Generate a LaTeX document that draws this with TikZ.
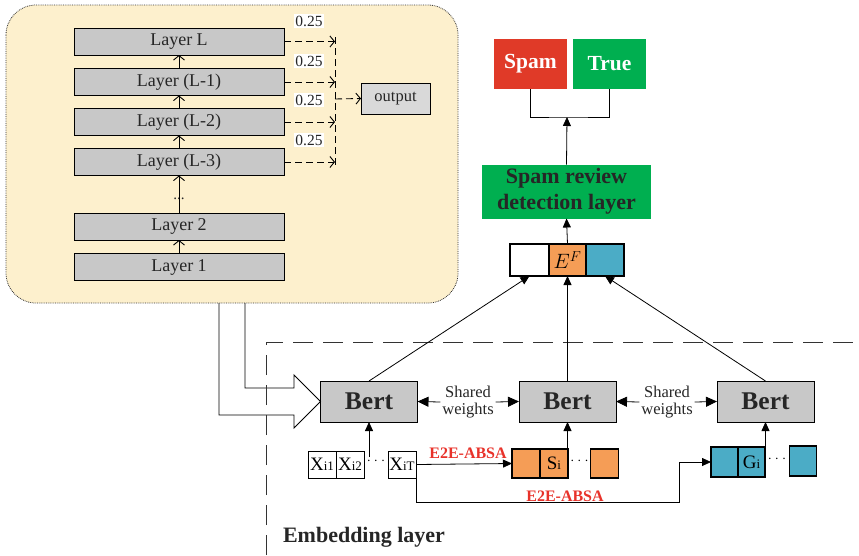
\documentclass[tikz,border=0pt]{standalone}
\usepackage{fontspec}
\setmainfont{Liberation Serif}
\usetikzlibrary{arrows.meta}
\definecolor{panel}{HTML}{FDF0CD}
\definecolor{lgray}{HTML}{C8C8C8}
\definecolor{ogray}{HTML}{D9D9D9}
\definecolor{orng}{HTML}{F59D56}
\definecolor{tealc}{HTML}{4BACC6}
\definecolor{spamred}{HTML}{E03A28}
\definecolor{grn}{HTML}{00AF50}
\definecolor{redtxt}{HTML}{E8322A}
\definecolor{ink}{HTML}{262626}
\newcommand{\fsz}[1]{\fontsize{#1}{#1}\selectfont}
\newcommand{\tok}[2]{{\fsz{19}#1}{\fsz{13}#2}}
\tikzset{
  x=1pt, y=-1pt,
  every node/.style={inner sep=0pt, outer sep=0pt},
  layerbox/.style={draw, line width=0.9pt, fill=lgray, minimum width=210pt, minimum height=27pt, font=\fsz{18}, text=ink},
  barb/.style={-{Straight Barb[length=4.5pt,width=11pt]}, line width=0.9pt},
  dbarb/.style={barb, dash pattern=on 7pt off 4pt},
  wlabel/.style={fill=white, inner sep=1.5pt, font=\fsz{15.5}, text=ink},
  bert/.style={draw, line width=0.9pt, fill=lgray, minimum width=97pt, minimum height=41pt, font=\bfseries\fsz{25.5}, text=ink},
  tri/.style={-{Triangle[length=9pt,width=8pt]}, line width=0.8pt},
  btri/.style={-{Triangle[length=11pt,width=10pt]}, line width=0.8pt},
  tokbox/.style={draw, line width=1pt, minimum width=28pt, minimum height=27pt},
  obox/.style={draw, line width=1.1pt, fill=orng, minimum width=28pt, minimum height=29pt},
  tbox/.style={draw, line width=1.1pt, fill=tealc, minimum width=27pt, minimum height=30pt},
  swtext/.style={align=center, font=\fsz{16.5}, inner sep=2pt, text=ink},
  e2e/.style={text=redtxt, font=\bfseries\fsz{16}},
  efbox/.style={draw, line width=1.1pt, minimum height=32pt},
  outbox/.style={minimum width=73pt, minimum height=50pt, text=white, font=\bfseries\fsz{21.5}}
}
\begin{document}
\begin{tikzpicture}
\useasboundingbox (0,0) rectangle (859,555);

% panel
\draw[fill=panel, draw=black!80, densely dotted, line width=0.8pt, rounded corners=30pt] (6,5) rectangle (458,303);

% layers
\node[layerbox] (lL) at (179,41.5) {Layer L};
\node[layerbox] (lL1) at (179,82) {Layer (L-1)};
\node[layerbox] (lL2) at (179,122) {Layer (L-2)};
\node[layerbox] (lL3) at (179,162) {Layer (L-3)};
\node[layerbox] (l2) at (179,226.5) {Layer 2};
\node[layerbox] (l1) at (179,267) {Layer 1};
\node[font=\fsz{15}, text=ink] (dots) at (179,199) {...};

\draw[barb] (l1.north) -- (l2.south);
\draw[barb] (l2.north) -- (lL3.south);
\draw[barb] (lL3.north) -- (lL2.south);
\draw[barb] (lL2.north) -- (lL1.south);
\draw[barb] (lL1.north) -- (lL.south);

% bus
\coordinate (bus) at (335,0);
\coordinate (bt) at (335,37);
\coordinate (bb) at (335,167);
\coordinate (bm) at (335,99);
\draw[line width=0.9pt, dash pattern=on 7pt off 4pt] (bt) -- (bb);
\draw[dbarb] (lL.east) -- (lL.east -| bus);
\draw[dbarb] (lL1.east) -- (lL1.east -| bus);
\draw[dbarb] (lL2.east) -- (lL2.east -| bus);
\draw[dbarb] (lL3.east) -- (lL3.east -| bus);
\node[draw, line width=0.9pt, fill=ogray, minimum width=69pt, minimum height=31pt, font=\fsz{16.5}, text=ink] (out) at (395.5,98.5) {output};
\draw[dbarb] (bm) -- (out.west);

\node[wlabel] (w1) at (309,21) {0.25};
\node[wlabel] (w2) at (309,61) {0.25};
\node[wlabel] (w3) at (309,100) {0.25};
\node[wlabel] (w4) at (309,140) {0.25};

% Bert
\node[bert] (b1) at (369,401.5) {Bert};
\node[bert] (b2) at (567.5,401.5) {Bert};
\node[bert] (b3) at (765.5,401.5) {Bert};

% hollow arrow
\draw[line width=0.9pt] (245,303) -- (245,388) -- (294,388) -- (294,375) -- (b1.west) -- (294,428) -- (294,415) -- (219,415) -- (219,303);

% embedding dashed frame
\draw[line width=1pt, dash pattern=on 20pt off 10pt, draw=black!80] (266,555) |- (859,342);
\node[font=\bfseries\fsz{22}, text=ink] (emb) at (364,537) {Embedding layer};

\node[swtext] (sw1) at (468,402) {Shared\\[1pt]weights};
\node[swtext] (sw2) at (667,402) {Shared\\[1pt]weights};
\draw[btri] (sw1.west) -- (b1.east);
\draw[btri] (sw1.east) -- (b2.west);
\draw[btri] (sw2.west) -- (b2.east);
\draw[btri] (sw2.east) -- (b3.west);

% tokens
\node[tokbox] (x1) at (322,464.5) {\tok{X}{i1}};
\node[tokbox] (x2) at (350,464.5) {\tok{X}{i2}};
\node[tokbox] (xT) at (402,464.5) {\tok{X}{iT}};
\node[font=\fsz{14}] (xd) at (376,461) {$\cdot\cdot\cdot$};
\coordinate (xin) at (369,457);
\draw[tri] (xin) -- (b1.south);

% orange
\node[obox] (o1) at (526,463.5) {};
\node[obox] (si) at (554,463.5) {\tok{S}{i}};
\node[obox] (o3) at (604.5,463.5) {};
\node[font=\fsz{14}] (od) at (579.5,461) {$\cdot\cdot\cdot$};
\coordinate (sin) at (567.5,449);
\draw[tri] (sin) -- (b2.south);

\draw[tri] (xT.east) -- (o1.west);
\node[e2e] (e2e1) at (468,453) {E2E-ABSA};

% teal
\node[tbox] (t1) at (724.5,462) {};
\node[tbox] (gi) at (751.5,462) {\tok{G}{i}};
\node[tbox] (t3) at (803,461) {};
\node[font=\fsz{14}] (td) at (777,459) {$\cdot\cdot\cdot$};
\coordinate (gin) at (765.5,447);
\draw[tri] (gin) -- (b3.south);

\coordinate (c1) at (679,502);
\draw[tri] (xT.south east) |- (c1) |- (t1.west);
\node[e2e] (e2e2) at (565,496) {E2E-ABSA};

% E^F row
\node[efbox, minimum width=39pt] (ef1) at (529.5,260) {};
\node[efbox, minimum width=37pt, fill=orng, font=\fsz{20}] (ef2) at (567.5,260) {$E^F$};
\node[efbox, minimum width=38pt, fill=tealc] (ef3) at (605,260) {};
\draw[tri] (b1.north) -- (ef1.south);
\draw[tri] (b2.north) -- (ef2.south);
\draw[tri] (b3.north) -- (ef3.south);

% detection layer
\node[fill=grn, minimum width=169pt, minimum height=54pt, align=center, font=\bfseries\fsz{22}, text=ink] (det) at (566.5,191.5) {Spam review\\[4pt]detection layer};
\draw[tri] (ef2.north) -- (det.south);

% outputs
\node[outbox, fill=spamred] (spam) at (530.5,64) {Spam};
\node[outbox, fill=grn] (true) at (609.5,64) {True};
\coordinate (jn) at (567,117);
\draw[line width=0.9pt] (spam.south) |- (jn) -| (true.south);
\draw[tri] (det.north) -- (jn);
\end{tikzpicture}
\end{document}
